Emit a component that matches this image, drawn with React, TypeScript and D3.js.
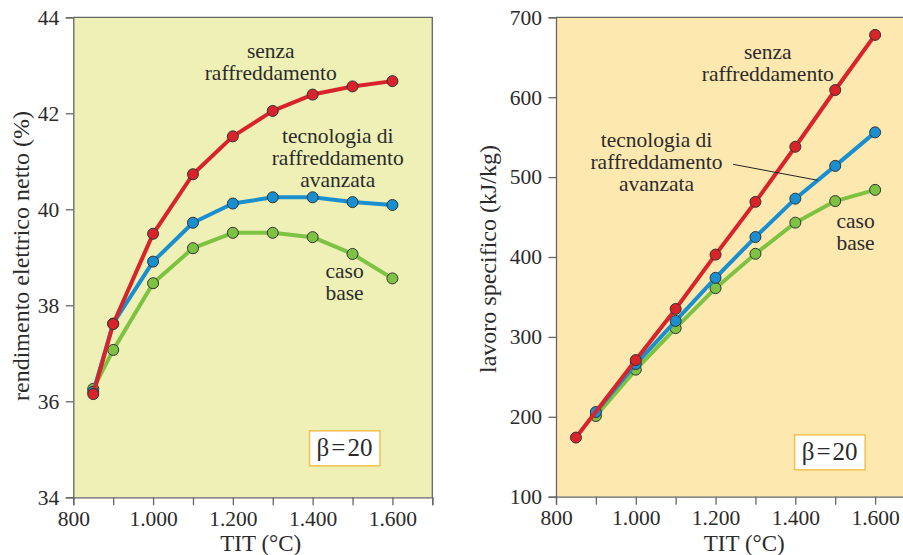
import React, { useEffect, useRef } from "react";
import * as d3 from "d3";

// TIT (°C)
const tit = [850, 900, 1000, 1100, 1200, 1300, 1400, 1500, 1600];
// rendimento elettrico netto (%)
const effSenza = [36.15, 37.61, 39.49, 40.73, 41.52, 42.05, 42.39, 42.56, 42.67];
const effAvanzata = [36.2, 37.62, 38.91, 39.72, 40.12, 40.25, 40.25, 40.15, 40.09];
const effBase = [36.26, 37.07, 38.46, 39.19, 39.51, 39.51, 39.42, 39.07, 38.56];

// lavoro specifico (kJ/kg)
const titSenzaWork = [850, 1000, 1100, 1200, 1300, 1400, 1500, 1600];
const workSenza = [174, 271, 335, 403, 469, 538, 609, 678];
const titWork = [900, 1000, 1100, 1200, 1300, 1400, 1500, 1600];
const workAvanzata = [206, 266, 320, 374, 425, 473, 514, 556];
const workBase = [201, 259, 311, 361, 404, 443, 470, 484];

const xTicks = [800, 900, 1000, 1100, 1200, 1300, 1400, 1500, 1600, 1700];
const effTicks = [34, 36, 38, 40, 42, 44];
const workTicks = [100, 200, 300, 400, 500, 600, 700];

const RED = "#d8232a";
const BLUE = "#1a8fd0";
const GREEN = "#7dc242";
const FONT = "'Liberation Serif', 'Times New Roman', serif";

const itFormat = d3.formatLocale({
  decimal: ",",
  thousands: ".",
  grouping: [3],
  currency: ["", "€"],
}).format(",");

const App = () => {
  const ref = useRef(null);

  useEffect(() => {
    const svg = d3.select(ref.current);
    svg.selectAll("*").remove();

    const drawPanel = (p) => {
      const g = svg.append("g");
      const [x0, x1] = p.x.range();
      const [y0, y1] = p.y.range();

      g.append("rect")
        .attr("x", x0)
        .attr("y", y1)
        .attr("width", x1 - x0)
        .attr("height", y0 - y1)
        .attr("fill", p.bg);

      // frame
      g.append("path")
        .attr("d", `M${x0},${y1}H${x1}V${y0}`)
        .attr("fill", "none")
        .attr("stroke", "#666")
        .attr("stroke-width", 1.3);

      const xAxis = g
        .append("g")
        .attr("transform", `translate(0,${y0})`)
        .call(
          d3.axisBottom(p.x)
            .tickValues(xTicks)
            .tickSize(8)
            .tickPadding(5)
            .tickFormat((d) => (d % 200 === 0 ? itFormat(d) : ""))
        );
      const yAxis = g
        .append("g")
        .attr("transform", `translate(${x0},0)`)
        .call(d3.axisLeft(p.y).tickValues(p.yTicks).tickSize(7.5).tickPadding(6.5));

      [xAxis, yAxis].forEach((a) => {
        a.select(".domain").attr("stroke", "#666").attr("stroke-width", 1.3);
        a.selectAll(".tick line").attr("stroke", "#666").attr("stroke-width", 1.3);
        a.selectAll("text")
          .attr("fill", "#2b2b2b")
          .style("font-family", FONT)
          .style("font-size", "21.5px");
      });

      p.series.forEach((s) => {
        const pts = s.xs.map((d, i) => [d, s.ys[i]]);
        g.append("path")
          .attr("d", d3.line().x((d) => p.x(d[0])).y((d) => p.y(d[1]))(pts))
          .attr("fill", "none")
          .attr("stroke", s.color)
          .attr("stroke-width", 4)
          .attr("stroke-linejoin", "round");
        g.selectAll(null)
          .data(pts)
          .enter()
          .append("circle")
          .attr("cx", (d) => p.x(d[0]))
          .attr("cy", (d) => p.y(d[1]))
          .attr("r", 5.5)
          .attr("fill", s.color)
          .attr("stroke", "#333")
          .attr("stroke-width", 1);
      });

      if (p.leader) {
        g.append("line")
          .attr("x1", p.x(p.leader[0][0]))
          .attr("y1", p.y(p.leader[0][1]))
          .attr("x2", p.x(p.leader[1][0]))
          .attr("y2", p.y(p.leader[1][1]))
          .attr("stroke", "#222")
          .attr("stroke-width", 1);
      }

      p.labels.forEach((l) => {
        const t = g
          .append("text")
          .attr("x", p.x(l.at[0]))
          .attr("y", p.y(l.at[1]))
          .attr("text-anchor", "middle")
          .attr("fill", "#2b2b2b")
          .style("font-family", FONT)
          .style("font-size", "21.5px");
        l.lines.forEach((line, i) => {
          t.append("tspan")
            .attr("x", p.x(l.at[0]))
            .attr("dy", i === 0 ? 0 : 21.7)
            .text(line);
        });
      });

      // beta box
      const bx = p.x(p.beta[0]);
      const by = p.y(p.beta[1]);
      g.append("rect")
        .attr("x", bx - 35)
        .attr("y", by - 17.5)
        .attr("width", 70.5)
        .attr("height", 35)
        .attr("fill", "#fff")
        .attr("stroke", "#f2c14e")
        .attr("stroke-width", 1.5);
      g.append("text")
        .attr("x", bx)
        .attr("y", by + 7.5)
        .attr("text-anchor", "middle")
        .attr("fill", "#2b2b2b")
        .style("font-family", FONT)
        .style("font-size", "25px")
        .text("β\u200a=\u200a20");

      g.append("text")
        .attr("transform", `translate(${p.yTitlePos[0]},${p.yTitlePos[1]}) rotate(-90)`)
        .attr("text-anchor", "middle")
        .attr("fill", "#2b2b2b")
        .style("font-family", FONT)
        .style("font-size", "24px")
        .text(p.yTitle);

      g.append("text")
        .attr("x", p.x(p.xTitleAt))
        .attr("y", 550.5)
        .attr("text-anchor", "middle")
        .attr("fill", "#2b2b2b")
        .style("font-family", FONT)
        .style("font-size", "23px")
        .text("TIT (°C)");
    };

    drawPanel({
      x: d3.scaleLinear().domain([800, 1700]).range([73.3, 432.3]),
      y: d3.scaleLinear().domain([34, 44]).range([497.3, 17.3]),
      yTicks: effTicks,
      bg: "#eef0b6",
      series: [
        { xs: tit, ys: effBase, color: GREEN },
        { xs: tit, ys: effAvanzata, color: BLUE },
        { xs: tit, ys: effSenza, color: RED },
      ],
      labels: [
        { at: [1295, 43.15], lines: ["senza", "raffreddamento"] },
        { at: [1463, 41.375], lines: ["tecnologia di", "raffreddamento", "avanzata"] },
        { at: [1480, 38.57], lines: ["caso", "base"] },
      ],
      beta: [1480, 35.02],
      yTitle: "rendimento elettrico netto (%)",
      yTitlePos: [29, 256],
      xTitleAt: 1270,
    });

    drawPanel({
      x: d3.scaleLinear().domain([800, 1700]).range([556, 915]),
      y: d3.scaleLinear().domain([100, 700]).range([496.7, 17.3]),
      yTicks: workTicks,
      bg: "#fde8b0",
      series: [
        { xs: titWork, ys: workBase, color: GREEN },
        { xs: titWork, ys: workAvanzata, color: BLUE },
        { xs: titSenzaWork, ys: workSenza, color: RED },
      ],
      labels: [
        { at: [1331, 647.4], lines: ["senza", "raffreddamento"] },
        { at: [1052, 537.3], lines: ["tecnologia di", "raffreddamento", "avanzata"] },
        { at: [1551, 436], lines: ["caso", "base"] },
      ],
      leader: [
        [1244, 516],
        [1456, 496],
      ],
      beta: [1486, 155.5],
      yTitle: "lavoro specifico (kJ/kg)",
      yTitlePos: [496, 259],
      xTitleAt: 1272,
    });
  }, []);

  return (
    <svg
      ref={ref}
      width={903}
      height={555}
      style={{ position: "absolute", left: 0, top: 0, background: "#fff" }}
    />
  );
};

export default App;
